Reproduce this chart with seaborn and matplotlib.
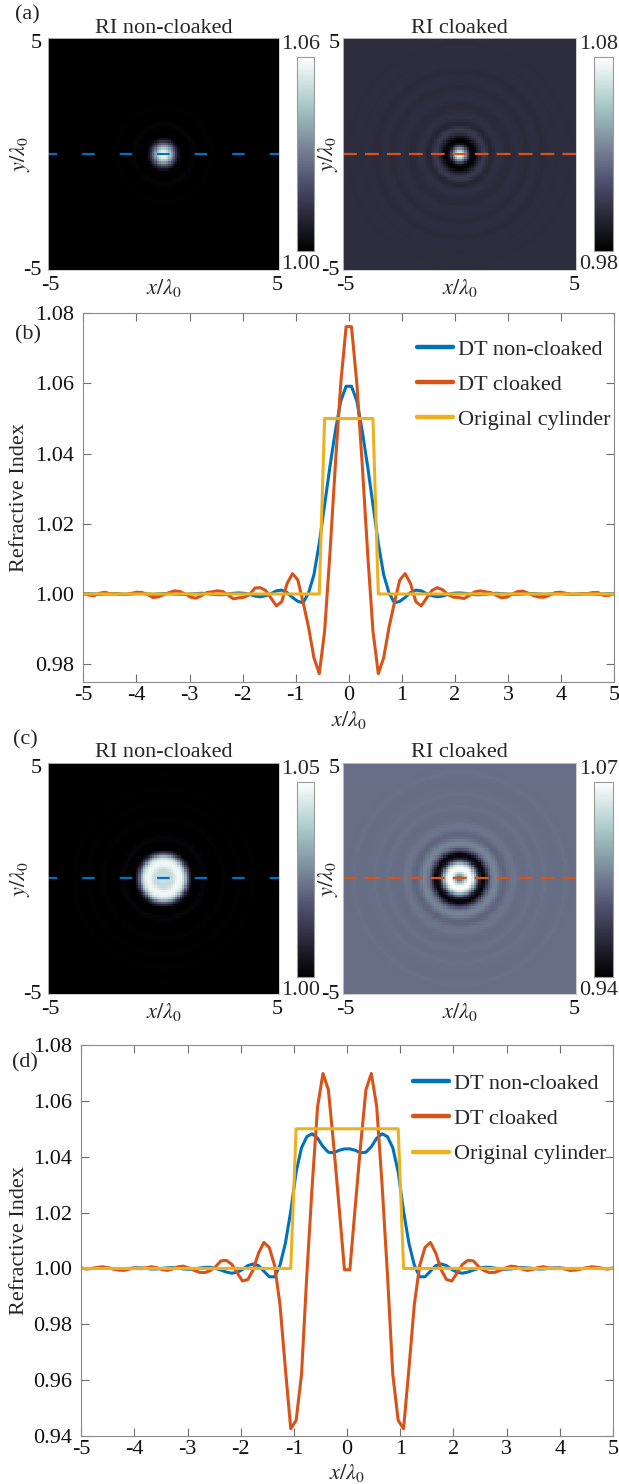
import numpy as np
import matplotlib
matplotlib.use("Agg")
import matplotlib.pyplot as plt
import matplotlib.transforms as mtransforms
import seaborn as sns

sns.set_theme(style="white")
plt.rcParams["font.family"] = ["Liberation Serif", "DejaVu Serif"]
plt.rcParams["mathtext.fontset"] = "stix"
plt.rcParams["axes.unicode_minus"] = False
plt.rcParams["lines.scale_dashes"] = False

# ---------------------------------------------------------------- data
# sample positions of the horizontal cut through the maps (x / lambda0)
x_first, x_last, n_samples = -5.0, 5.0, 100
x_cut = np.linspace(x_first, x_last, n_samples)

# cylinder of radius 0.5 lambda0: refractive index along y = 0
n_plain_b = [
    1.0000, 1.0001, 1.0000, 0.9999, 1.0000, 1.0000, 1.0001, 1.0000, 0.9999, 1.0000,
    1.0001, 1.0001, 1.0000, 0.9999, 1.0000, 1.0001, 1.0001, 1.0000, 0.9999, 0.9999,
    1.0000, 1.0001, 1.0002, 1.0001, 0.9999, 0.9998, 0.9998, 1.0000, 1.0002, 1.0003,
    1.0002, 0.9999, 0.9994, 0.9992, 0.9995, 1.0001, 1.0009, 1.0011, 1.0004, 0.9990,
    0.9979, 0.9975, 1.0003, 1.0055, 1.0145, 1.0255, 1.0365, 1.0465, 1.0550, 1.0592,
    1.0592, 1.0550, 1.0465, 1.0365, 1.0255, 1.0145, 1.0055, 1.0003, 0.9975, 0.9979,
    0.9990, 1.0004, 1.0011, 1.0009, 1.0001, 0.9995, 0.9992, 0.9994, 0.9999, 1.0002,
    1.0003, 1.0002, 1.0000, 0.9998, 0.9998, 0.9999, 1.0001, 1.0002, 1.0001, 1.0000,
    0.9999, 0.9999, 1.0000, 1.0001, 1.0001, 1.0000, 0.9999, 1.0000, 1.0001, 1.0001,
    1.0000, 0.9999, 1.0000, 1.0001, 1.0000, 1.0000, 0.9999, 1.0000, 1.0001, 1.0000,
]
n_cloak_b = [
    1.0002, 0.9997, 0.9995, 1.0002, 1.0005, 1.0001, 1.0000, 0.9999, 0.9999, 1.0002,
    1.0005, 1.0004, 0.9998, 0.9990, 0.9992, 0.9998, 1.0004, 1.0009, 1.0007, 1.0000,
    0.9991, 0.9988, 0.9995, 1.0004, 1.0006, 1.0009, 1.0007, 0.9997, 0.9986, 0.9989,
    0.9991, 0.9998, 1.0017, 1.0018, 1.0010, 0.9988, 0.9966, 0.9978, 1.0030, 1.0058,
    1.0040, 0.9975, 0.9905, 0.9818, 0.9773, 0.9895, 1.0120, 1.0370, 1.0600, 1.0762,
    1.0762, 1.0600, 1.0370, 1.0120, 0.9895, 0.9773, 0.9818, 0.9905, 0.9975, 1.0040,
    1.0058, 1.0030, 0.9978, 0.9966, 0.9988, 1.0010, 1.0018, 1.0012, 0.9998, 0.9991,
    0.9990, 0.9987, 0.9996, 1.0006, 1.0009, 1.0006, 1.0004, 0.9996, 0.9989, 0.9991,
    1.0000, 1.0007, 1.0008, 1.0002, 0.9995, 0.9991, 0.9991, 0.9997, 1.0004, 1.0005,
    1.0002, 0.9999, 0.9999, 1.0000, 1.0001, 1.0004, 1.0004, 0.9996, 0.9996, 1.0002,
]
x_cyl_b = [-5.0, -0.556, -0.455, 0.455, 0.556, 5.0]
n_cyl_b = [1.00, 1.00, 1.05, 1.05, 1.00, 1.00]

# cylinder of radius 1.0 lambda0: refractive index along y = 0
n_plain_d = [
    1.0001, 0.9999, 1.0000, 1.0001, 1.0002, 1.0001, 0.9999, 0.9998, 0.9999, 1.0000,
    1.0002, 1.0002, 1.0000, 0.9998, 0.9998, 1.0000, 1.0002, 1.0003, 1.0001, 0.9998,
    0.9997, 0.9998, 1.0001, 1.0004, 1.0004, 1.0000, 0.9994, 0.9987, 0.9983, 0.9986,
    0.9996, 1.0010, 1.0016, 1.0010, 0.9990, 0.9970, 0.9970, 1.0012, 1.0090, 1.0205,
    1.0345, 1.0432, 1.0472, 1.0482, 1.0466, 1.0436, 1.0416, 1.0414, 1.0423, 1.0428,
    1.0428, 1.0423, 1.0414, 1.0416, 1.0436, 1.0466, 1.0482, 1.0472, 1.0432, 1.0345,
    1.0205, 1.0090, 1.0012, 0.9970, 0.9970, 0.9990, 1.0010, 1.0016, 1.0010, 0.9996,
    0.9986, 0.9983, 0.9987, 0.9994, 1.0000, 1.0004, 1.0004, 1.0001, 0.9998, 0.9997,
    0.9998, 1.0001, 1.0003, 1.0002, 1.0000, 0.9998, 0.9998, 1.0000, 1.0002, 1.0002,
    1.0000, 0.9999, 0.9998, 0.9999, 1.0001, 1.0002, 1.0001, 1.0000, 0.9999, 1.0001,
]
n_cloak_d = [
    1.0001, 0.9998, 1.0000, 1.0004, 1.0006, 1.0002, 0.9998, 0.9994, 0.9993, 0.9998,
    1.0002, 0.9999, 1.0002, 1.0006, 1.0003, 0.9996, 0.9993, 0.9998, 1.0006, 1.0008,
    1.0002, 0.9993, 0.9986, 0.9985, 0.9992, 1.0006, 1.0027, 1.0029, 1.0015, 0.9985,
    0.9955, 0.9960, 0.9995, 1.0055, 1.0093, 1.0075, 1.0010, 0.9870, 0.9640, 0.9426,
    0.9456, 0.9620, 0.9980, 1.0300, 1.0580, 1.0698, 1.0640, 1.0440, 1.0220, 0.9995,
    0.9995, 1.0220, 1.0440, 1.0640, 1.0698, 1.0580, 1.0300, 0.9980, 0.9620, 0.9456,
    0.9426, 0.9640, 0.9870, 1.0010, 1.0075, 1.0093, 1.0055, 0.9995, 0.9960, 0.9955,
    0.9985, 1.0015, 1.0029, 1.0027, 1.0006, 0.9992, 0.9985, 0.9986, 0.9993, 1.0002,
    1.0008, 1.0006, 0.9998, 0.9993, 0.9996, 1.0003, 1.0006, 1.0002, 0.9999, 1.0002,
    0.9998, 0.9993, 0.9994, 0.9998, 1.0002, 1.0006, 1.0004, 1.0000, 0.9998, 1.0001,
]
x_cyl_d = [-5.0, -1.061, -0.960, 0.960, 1.061, 5.0]
n_cyl_d = [1.00, 1.00, 1.05, 1.05, 1.00, 1.00]

# colour limits of the four maps
clim_plain_a = (1.00, 1.06)
clim_cloak_a = (0.98, 1.08)
clim_plain_c = (1.00, 1.05)
clim_cloak_c = (0.94, 1.07)

series_labels = ["DT non-cloaked", "DT cloaked", "Original cylinder"]

# ---------------------------------------------------------------- style
C_BLUE, C_ORANGE, C_YELLOW = "#0072BD", "#D95319", "#EDB120"
FS = 16
W, H = 619, 1484
fig = plt.figure(figsize=(W / 100, H / 100), dpi=100)


def add_px_axes(left, top, right, bottom):
    return fig.add_axes([left / W, 1 - bottom / H, (right - left) / W, (bottom - top) / H])


def nudge(text, dx, dy):
    """Move a text artist by (dx, dy) pixels (dy positive = down)."""
    text.set_transform(text.get_transform() + mtransforms.ScaledTranslation(
        dx / fig.dpi, -dy / fig.dpi, fig.dpi_scale_trans))


def radial_map(profile):
    """Rotate the (radially symmetric) cut into a 2-D map."""
    half_x = x_cut[n_samples // 2:]
    half_n = np.asarray(profile)[n_samples // 2:]
    gx, gy = np.meshgrid(x_cut, x_cut)
    return np.interp(np.hypot(gx, gy), half_x, half_n)


def to_cell(v):
    return (np.asarray(v) - x_first) / (x_last - x_first) * n_samples


def draw_map(rect, cb_rect, profile, clim, cb_step, title, cut_color, cut_style,
             ylabel_x, ytick_pad):
    ax = add_px_axes(*rect)
    cax = add_px_axes(*cb_rect)
    sns.heatmap(radial_map(profile), ax=ax, cbar_ax=cax, cmap="bone",
                vmin=clim[0], vmax=clim[1], xticklabels=False, yticklabels=False)
    # dashed line marking the cut y = 0
    ax.plot(to_cell([x_first, x_last]), n_samples - to_cell([0.0, 0.0]),
            color=cut_color, lw=1.6, linestyle=cut_style)
    ticks = np.linspace(x_first, x_last, 9)
    ax.set_xticks(to_cell(ticks))
    ax.set_xticklabels(["-5"] + [""] * 7 + ["5"], rotation=0, fontsize=FS,
                       color="#111")
    ax.set_yticks(n_samples - to_cell(ticks))
    ax.set_yticklabels(["-5"] + [""] * 7 + ["5"], rotation=0, fontsize=FS,
                       color="#111")
    ax.tick_params(direction="in", length=5, width=0.9, color="#e0e0e0",
                   bottom=True, left=True, top=False, right=False)
    ax.tick_params(axis="x", pad=4)
    ax.tick_params(axis="y", pad=ytick_pad)
    xl = ax.get_xticklabels()
    nudge(xl[0], 2, 0)
    nudge(xl[-1], -2, 0)
    yl = ax.get_yticklabels()
    nudge(yl[0], 0, -2)
    nudge(yl[-1], 0, 3)
    for s in ax.spines.values():
        s.set_visible(True)
        s.set_color("#c8c8c8")
        s.set_linewidth(0.6)
    ax.set_title(title, fontsize=FS, pad=4)
    ax.set_xlabel(r"$x/\lambda_0$", fontsize=FS)
    ax.xaxis.set_label_coords(0.5, -0.078)
    ax.xaxis.label.set_va("center")
    ax.set_ylabel(r"$y/\lambda_0$", fontsize=FS)
    ax.yaxis.set_label_coords(ylabel_x, 0.5)
    ax.yaxis.label.set_va("center")

    cb = ax.collections[0].colorbar
    cb.set_ticks(np.arange(clim[0], clim[1] + 1e-9, cb_step))
    cax.set_yticklabels([])
    cax.tick_params(direction="in", length=3, width=0.6, color="#909090",
                    right=True, left=False)
    cb.outline.set_edgecolor("#9a9a9a")
    cb.outline.set_linewidth(0.8)
    cx = (cb_rect[0] + cb_rect[2]) / 2 - 4.5
    fig.text(cx / W, 1 - (cb_rect[1] - 12) / H, f"{clim[1]:.2f}", ha="center",
             va="center", fontsize=FS)
    fig.text(cx / W, 1 - (cb_rect[3] + 14) / H, f"{clim[0]:.2f}", ha="center",
             va="center", fontsize=FS)
    return ax


def draw_cut(rect, n_plain, n_cloak, x_cyl, n_cyl, ylim, yticks, legend_anchor,
             xlabel_y):
    ax = add_px_axes(*rect)
    sns.lineplot(x=x_cut, y=n_plain, ax=ax, color=C_BLUE, lw=2.2,
                 label=series_labels[0])
    sns.lineplot(x=x_cut, y=n_cloak, ax=ax, color=C_ORANGE, lw=2.2,
                 label=series_labels[1])
    sns.lineplot(x=x_cyl, y=n_cyl, ax=ax, color=C_YELLOW, lw=2.2,
                 label=series_labels[2])
    ax.set_xlim(x_first, x_last)
    ax.set_ylim(*ylim)
    ax.set_xticks(np.arange(-5, 6, 1))
    ax.set_yticks(yticks)
    ax.set_yticklabels([f"{v:.2f}" for v in yticks])
    ax.tick_params(direction="in", length=6, width=0.8, color="#6e6e6e",
                   top=True, right=True, bottom=True, left=True,
                   labelsize=FS, labelcolor="#111")
    ax.tick_params(axis="y", pad=6.5)
    ax.tick_params(axis="x", pad=3)
    for s in ax.spines.values():
        s.set_visible(True)
        s.set_color("#8a8a8a")
        s.set_linewidth(0.8)
    height = rect[3] - rect[1]
    ax.set_xlabel(r"$x/\lambda_0$", fontsize=FS)
    ax.xaxis.set_label_coords(0.5, -(xlabel_y - rect[3]) / height)
    ax.xaxis.label.set_va("center")
    ax.set_ylabel("Refractive Index", fontsize=FS)
    ax.yaxis.set_label_coords((20 - rect[0]) / (rect[2] - rect[0]), 0.5)
    ax.yaxis.label.set_va("center")
    leg = ax.legend(loc="upper right", bbox_to_anchor=legend_anchor, frameon=False,
                    fontsize=FS, handlelength=1.62, handletextpad=0.25,
                    labelspacing=0.66, borderpad=0.1, borderaxespad=0)
    for ln in leg.get_lines():
        ln.set_linewidth(3.2)
    return ax


# ---------------------------------------------------------------- panels
blue_dash = (2.4, (9.0, 18.0))
orange_dash = (0.0, (10.0, 5.8))

draw_map((48.3, 38.3, 279, 270.3), (296.5, 56.7, 313.5, 250.7), n_plain_b,
         clim_plain_a, 0.01, "RI non-cloaked", C_BLUE, blue_dash, -0.123, 5)
draw_map((343.5, 38.3, 576, 270.3), (594, 56.7, 613, 250.7), n_cloak_b,
         clim_cloak_a, 0.02, "RI cloaked", C_ORANGE, orange_dash, -0.067, 2.5)

draw_cut((83.3, 313.3, 614.3, 681.7), n_plain_b, n_cloak_b, x_cyl_b, n_cyl_b,
         (0.975, 1.08), np.arange(0.98, 1.0801, 0.02), (0.9975, 0.936), 720)

draw_map((48.3, 763, 279, 994), (296.5, 781.7, 313.5, 976.7), n_plain_d,
         clim_plain_c, 0.01, "RI non-cloaked", C_BLUE, blue_dash, -0.123, 5)
draw_map((343.5, 763, 576, 994), (594, 781.7, 613, 976.7), n_cloak_d,
         clim_cloak_c, 0.02, "RI cloaked", C_ORANGE, orange_dash, -0.067, 2.5)

draw_cut((81.3, 1045, 613, 1436), n_plain_d, n_cloak_d, x_cyl_d, n_cyl_d,
         (0.94, 1.08), np.arange(0.94, 1.0801, 0.02), (0.9925, 0.933), 1473)

for tag, (px, py) in {"(a)": (27, 15), "(b)": (28, 335),
                      "(c)": (25, 740), "(d)": (25, 1063)}.items():
    fig.text(px / W, 1 - py / H, tag, ha="center", va="center", fontsize=FS)

fig.savefig("out.png", dpi=100)
